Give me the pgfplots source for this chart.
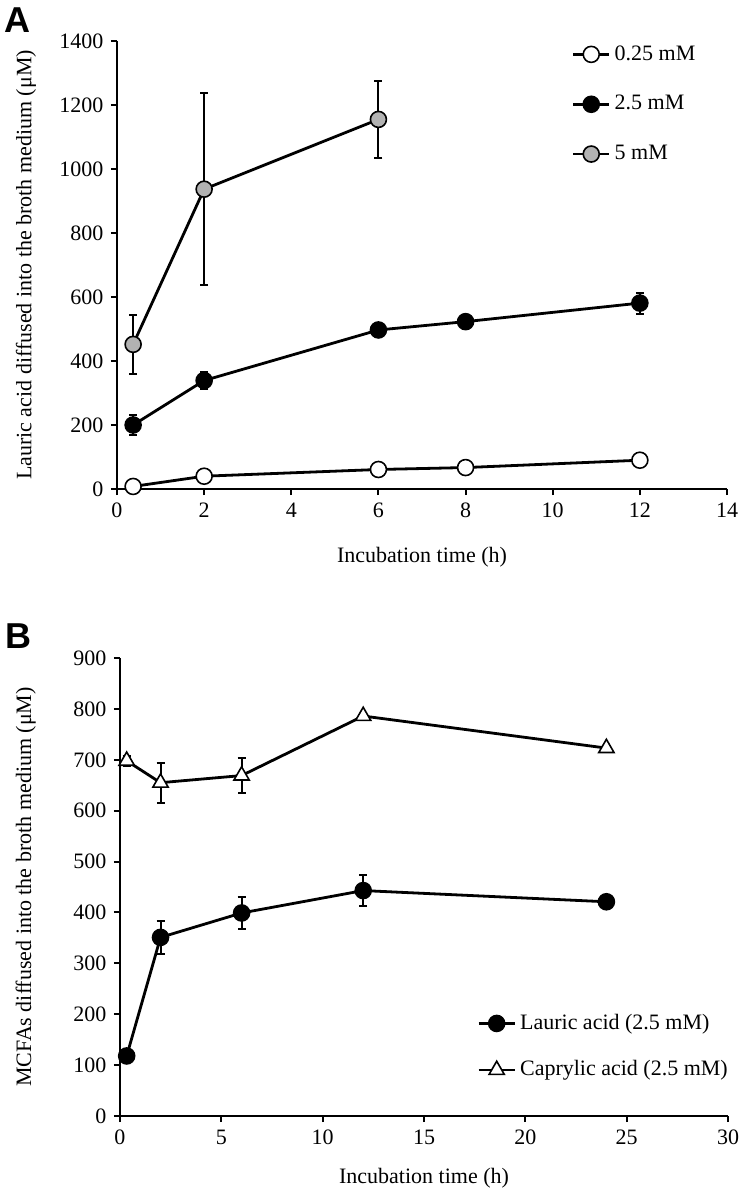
\documentclass[border=0pt]{standalone}
\usepackage{fontspec}
\setmainfont{Liberation Serif}
\newfontfamily\panelfont{Liberation Sans}
\usepackage{pgfplots}
\pgfplotsset{compat=1.18}

\pgfplotstableread{
x y e
0.37 8 0
2 40 0
6 61 0
8 67 0
12 90 0
}\Alow
\pgfplotstableread{
x y e
0.37 200 30
2 339 28
6 497 17
8 523 12
12 581 33
}\Amid
\pgfplotstableread{
x y e
0.37 452 93
2 937 300
6 1155 121
}\Ahigh
\pgfplotstableread{
x y e
0.33 118 0
2 351 32
6 399 31
12 443 31
24 421 0
}\Blau
\pgfplotstableread{
x y e
0.33 698 10
2 655 39
6 669 34
12 786 0
24 723 0
}\Bcap

\pgfplotsset{
  myaxis/.style={
    scale only axis,
    axis x line*=bottom,
    axis y line*=left,
    axis line style={line width=1pt},
    tick align=outside,
    major tick length=3pt,
    tick style={line width=1pt, black},
    font=\fontsize{11}{13}\selectfont,
    /pgf/number format/assume math mode=true,
    /pgf/number format/set thousands separator={},
    legend cell align=left,
    legend image code/.code={
      \draw[mark repeat=2, mark phase=2, #1] plot coordinates {(0pt,0pt) (9pt,0pt) (18pt,0pt)};
    },
  },
  ser/.style={
    black, line width=1.4pt, mark=*, mark size=4pt,
    mark options={solid, line width=0.8pt, fill=#1},
    error bars/y dir=both, error bars/y explicit,
    error bars/error bar style={line width=1pt},
    error bars/error mark options={line width=1pt, mark size=2pt, rotate=90},
  },
}

\begin{document}
\fontsize{11pt}{13pt}\selectfont
\begin{tikzpicture}
\useasboundingbox (0pt,0pt) rectangle (372pt,-597pt);
\node[font=\panelfont\bfseries\fontsize{18}{18}\selectfont] at (8.5pt,-10pt) {A};
\node[font=\panelfont\bfseries\fontsize{18}{18}\selectfont] at (9pt,-318pt) {B};

\begin{axis}[myaxis,
  at={(58.5pt,-244.5pt)}, anchor=south west,
  width=305pt, height=224pt,
  xmin=0, xmax=14, ymin=0, ymax=1400,
  xtick={0,2,...,14}, ytick={0,200,...,1400},
  xlabel={Incubation time (h)},
  ylabel={Lauric acid diffused into the broth medium (μM)},
  xlabel style={at={(axis description cs:0.5,-0.152)}, anchor=center},
  ylabel style={at={(axis description cs:-0.149,0.5)}, anchor=center},
  legend style={draw=none, fill=none, at={(axis description cs:0.745,1.0)}, anchor=north west,
    row sep=12pt, inner sep=0pt, font=\fontsize{11}{13}\selectfont},
]
\addplot[ser=white] table[x=x,y=y,y error=e] {\Alow};
\addlegendentry{0.25 mM}
\addplot[ser=black] table[x=x,y=y,y error=e] {\Amid};
\addlegendentry{2.5 mM}
\addplot[ser={black!30}] table[x=x,y=y,y error=e] {\Ahigh};
\addlegendentry{5 mM}
\end{axis}

\begin{axis}[myaxis,
  at={(60pt,-558pt)}, anchor=south west,
  width=304pt, height=229pt,
  xmin=0, xmax=30, ymin=0, ymax=900,
  xtick={0,5,...,30}, ytick={0,100,...,900},
  xlabel={Incubation time (h)},
  ylabel={MCFAs diffused into the broth medium (μM)},
  xlabel style={at={(axis description cs:0.5,-0.135)}, anchor=center},
  ylabel style={at={(axis description cs:-0.155,0.5)}, anchor=center},
  legend style={draw=none, fill=none, at={(axis description cs:0.587,0.232)}, anchor=north west,
    row sep=10pt, inner sep=0pt, font=\fontsize{11}{13}\selectfont},
]
\addplot[ser=black] table[x=x,y=y,y error=e] {\Blau};
\addlegendentry{Lauric acid (2.5 mM)}
\addplot[ser=white, mark=triangle*, mark size=4.4pt] table[x=x,y=y,y error=e] {\Bcap};
\addlegendentry{Caprylic acid (2.5 mM)}
\end{axis}
\end{tikzpicture}
\end{document}
